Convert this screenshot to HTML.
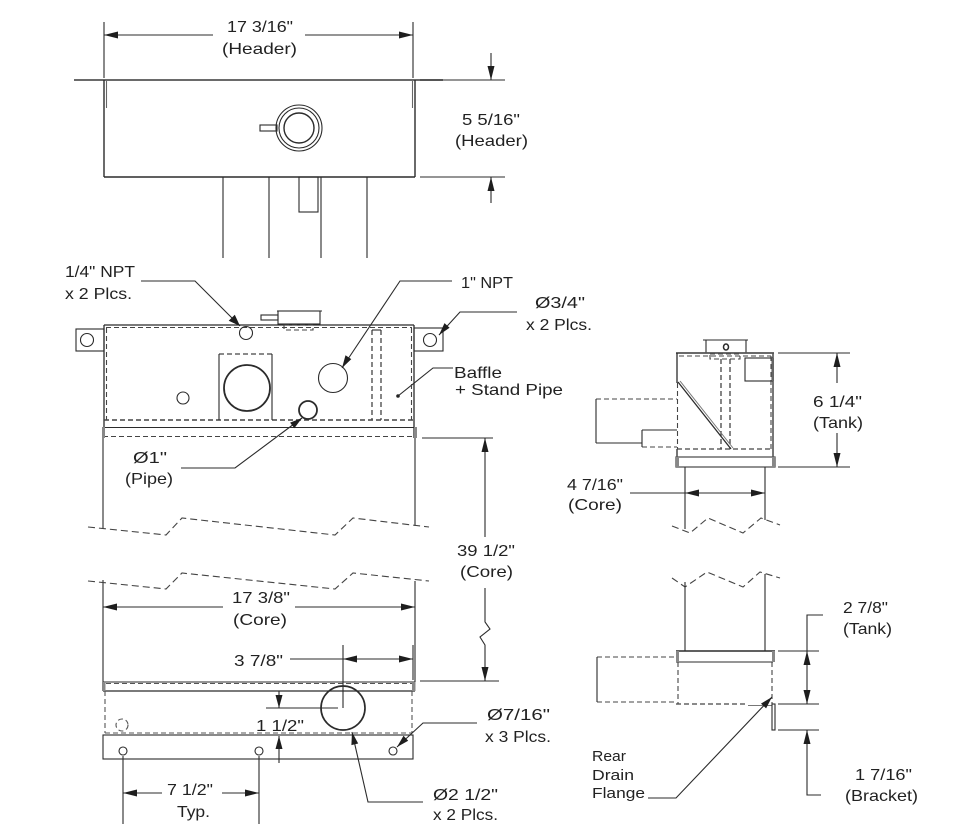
<!DOCTYPE html>
<html>
<head>
<meta charset="utf-8">
<style>
html,body{margin:0;padding:0;background:#fff;}
svg{display:block;}
text{font-family:"Liberation Sans","DejaVu Sans",sans-serif;font-size:16px;fill:#222;}
.s{font-size:15px;}
</style>
</head>
<body>
<svg width="960" height="828" viewBox="0 0 960 828" xmlns="http://www.w3.org/2000/svg">
<rect width="960" height="828" fill="#fff"/>

<!-- ================= TOP (HEADER) VIEW ================= -->
<g fill="none" stroke="#2b2b2b" stroke-width="1.1">
  <line x1="104" y1="22" x2="104" y2="78"/>
  <line x1="413" y1="22" x2="413" y2="78"/>
  <line x1="104" y1="35" x2="213" y2="35"/>
  <line x1="305" y1="35" x2="413" y2="35"/>
  <line x1="74" y1="80" x2="443" y2="80" stroke-width="1.8" stroke="#555"/>
  <line x1="104" y1="80" x2="104" y2="177" stroke-width="1.4"/>
  <line x1="415" y1="80" x2="415" y2="177" stroke-width="1.4"/>
  <line x1="106.5" y1="81" x2="106.5" y2="108" stroke="#666"/>
  <line x1="412.5" y1="81" x2="412.5" y2="108" stroke="#666"/>
  <line x1="104" y1="177" x2="415" y2="177" stroke-width="1.5"/>
  <circle cx="299" cy="128" r="23"/>
  <circle cx="299" cy="128" r="20"/>
  <circle cx="299" cy="128" r="15" stroke-width="1.4"/>
  <rect x="260" y="125" width="17" height="6"/>
  <path d="M223 258V177M269 177V258"/>
  <rect x="299" y="177" width="19" height="35"/>
  <path d="M321 258V177M367 177V258"/>
  <line x1="420" y1="80" x2="505" y2="80"/>
  <line x1="420" y1="177" x2="505" y2="177"/>
  <line x1="491" y1="53" x2="491" y2="80"/>
  <line x1="491" y1="177" x2="491" y2="203"/>
</g>

<!-- ================= FRONT VIEW (upper) ================= -->
<g fill="none" stroke="#2b2b2b" stroke-width="1.1">
  <polyline points="141,281 195,281 240,326"/>
  <polyline points="452,281 400,281 342,368"/>
  <polyline points="517,312 460,312 439,335"/>
  <polyline points="453,368 433,368 398,396"/>
  <polyline points="181,468 235,468 302,418"/>
  <rect x="76" y="329" width="28" height="22"/>
  <circle cx="87" cy="340" r="6.5"/>
  <rect x="414" y="328" width="29" height="23"/>
  <circle cx="430" cy="340" r="6.5"/>
  <line x1="104" y1="325" x2="414" y2="325" stroke-width="1.3"/>
  <line x1="104" y1="325" x2="104" y2="438" stroke-width="1.3"/>
  <line x1="414" y1="325" x2="414" y2="438" stroke-width="1.3"/>
  <g stroke-dasharray="5 3" stroke="#444">
    <line x1="106" y1="327.5" x2="412" y2="327.5"/>
    <line x1="106.5" y1="328" x2="106.5" y2="420"/>
    <line x1="411.5" y1="328" x2="411.5" y2="420"/>
    <line x1="104" y1="420" x2="414" y2="420" stroke-width="1.4"/>
    <line x1="219" y1="354" x2="272" y2="354" stroke-width="1.3"/>
    <line x1="372" y1="330" x2="372" y2="420" stroke-width="1.3"/>
    <line x1="381" y1="330" x2="381" y2="420" stroke-width="1.3"/>
    <rect x="284" y="325" width="29" height="5"/>
    <line x1="103" y1="436.5" x2="416" y2="436.5"/>
  </g>
  <line x1="372" y1="330" x2="381" y2="330"/>
  <path d="M219 420V354M272 354V420"/>
  <line x1="277" y1="311" x2="322" y2="311"/>
  <rect x="278" y="311" width="42" height="13"/>
  <rect x="261" y="315" width="17" height="5"/>
  <circle cx="246" cy="333" r="6.5"/>
  <circle cx="247" cy="388" r="23" stroke-width="1.8"/>
  <circle cx="333" cy="378" r="14.5"/>
  <circle cx="183" cy="398" r="6"/>
  <circle cx="308" cy="410" r="9" stroke-width="1.8"/>
  <line x1="103" y1="427.5" x2="416" y2="427.5"/>
  <line x1="103" y1="427" x2="103" y2="438"/>
  <line x1="416" y1="427" x2="416" y2="438"/>
  <line x1="422" y1="438" x2="493" y2="438"/>
  <line x1="103" y1="438" x2="103" y2="529"/>
  <line x1="415" y1="438" x2="415" y2="526"/>
  <line x1="103" y1="580" x2="103" y2="682"/>
  <line x1="415" y1="581" x2="415" y2="682"/>
  <g stroke-dasharray="7 4" stroke="#444">
    <polyline points="88,527 166,535 182,518 335,535 353,518 429,527"/>
    <polyline points="88,581 166,589 182,573 335,589 353,573 429,581"/>
  </g>
  <line x1="485" y1="438" x2="485" y2="537"/>
  <polyline points="485,588 485,622 490,629 480,637 485,645 485,681"/>
  <line x1="420" y1="681" x2="499" y2="681"/>
  <line x1="103" y1="607" x2="223" y2="607"/>
  <line x1="295" y1="607" x2="415" y2="607"/>
</g>
<circle cx="398" cy="396" r="1.8" fill="#222"/>
<rect x="102" y="427" width="3" height="11" fill="#888"/>
<rect x="414" y="427" width="3" height="11" fill="#888"/>

<!-- ================= FRONT VIEW (lower) ================= -->
<g fill="none" stroke="#2b2b2b" stroke-width="1.1">
  <line x1="103" y1="682" x2="415" y2="682"/>
  <line x1="103" y1="691" x2="415" y2="691" stroke-width="1.3"/>
  <g stroke-dasharray="5 3" stroke="#555">
    <line x1="106" y1="683.5" x2="412" y2="683.5"/>
    <line x1="105" y1="691" x2="105" y2="733"/>
    <line x1="412" y1="691" x2="412" y2="733"/>
    <line x1="105" y1="733" x2="412" y2="733"/>
    <circle cx="122" cy="725" r="6"/>
  </g>
  <rect x="103" y="735" width="310" height="24"/>
  <circle cx="123" cy="751" r="4"/>
  <circle cx="259" cy="751" r="4"/>
  <circle cx="393" cy="751" r="4"/>
  <circle cx="343" cy="708" r="22" stroke-width="1.7"/>
  <line x1="290" y1="659" x2="413" y2="659"/>
  <line x1="343" y1="645" x2="343" y2="708"/>
  <line x1="413" y1="645" x2="413" y2="680"/>
  <line x1="279" y1="691" x2="279" y2="708"/>
  <line x1="279" y1="736" x2="279" y2="763"/>
  <line x1="266" y1="708" x2="338" y2="708"/>
  <line x1="123" y1="756" x2="123" y2="824"/>
  <line x1="259" y1="756" x2="259" y2="824"/>
  <line x1="123" y1="793" x2="162" y2="793"/>
  <line x1="222" y1="793" x2="259" y2="793"/>
  <polyline points="477,723 423,723 397,747"/>
  <polyline points="423,802 368,802 352,732"/>
</g>
<rect x="102" y="682" width="3.5" height="9" fill="#888"/>
<rect x="412" y="682" width="3.5" height="9" fill="#888"/>

<!-- ================= RIGHT SIDE VIEW (upper) ================= -->
<g fill="none" stroke="#2b2b2b" stroke-width="1.1">
  <line x1="703" y1="340" x2="748" y2="340"/>
  <path d="M706 340V353M746 340V353"/>
  <ellipse cx="726" cy="347" rx="2.5" ry="3" stroke-width="1.5"/>
  <line x1="676" y1="353" x2="774" y2="353" stroke="#555" stroke-width="1.8"/>
  <line x1="677" y1="353" x2="677" y2="383" stroke-width="1.3"/>
  <line x1="773" y1="353" x2="773" y2="467" stroke-width="1.6" stroke="#555"/>
  <line x1="677" y1="449" x2="677" y2="467" stroke-width="1.3"/>
  <g stroke-dasharray="5 3" stroke="#444">
    <rect x="710" y="354" width="30" height="5"/>
    <line x1="679" y1="356" x2="771" y2="356"/>
    <line x1="677.5" y1="383" x2="677.5" y2="449"/>
    <line x1="771" y1="356" x2="771" y2="449"/>
    <line x1="677" y1="449" x2="773" y2="449" stroke-width="1.3"/>
    <line x1="721" y1="359" x2="721" y2="449" stroke-width="1.3"/>
    <line x1="730" y1="359" x2="730" y2="449" stroke-width="1.3"/>
    <line x1="596" y1="399" x2="677" y2="399"/>
    <line x1="642" y1="447" x2="677" y2="447"/>
  </g>
  <rect x="745" y="358" width="27" height="23"/>
  <line x1="678" y1="382" x2="731" y2="449" stroke-width="1.3"/>
  <line x1="680" y1="381" x2="733" y2="448" stroke="#777" stroke-width="1"/>
  <line x1="596" y1="399" x2="596" y2="443"/>
  <line x1="596" y1="443" x2="642" y2="443"/>
  <line x1="642" y1="430" x2="677" y2="430"/>
  <line x1="642" y1="430" x2="642" y2="447"/>
  <rect x="676" y="457" width="99" height="10" stroke="#555" stroke-width="1.3"/>
  <line x1="685" y1="467" x2="685" y2="529"/>
  <line x1="765" y1="467" x2="765" y2="520"/>
  <polyline points="672,526 690,533 708,518 743,533 761,518 780,525" stroke-dasharray="7 4" stroke="#444"/>
  <line x1="630" y1="493" x2="765" y2="493"/>
  <line x1="778" y1="353" x2="850" y2="353"/>
  <line x1="778" y1="467" x2="850" y2="467"/>
  <line x1="837" y1="353" x2="837" y2="383"/>
  <line x1="837" y1="433" x2="837" y2="467"/>
</g>
<rect x="676" y="457" width="3" height="10" fill="#888"/>
<rect x="772" y="457" width="3" height="10" fill="#888"/>
<rect x="771.5" y="358" width="2.5" height="23" fill="#666"/>

<!-- ================= RIGHT SIDE VIEW (lower) ================= -->
<g fill="none" stroke="#2b2b2b" stroke-width="1.1">
  <polyline points="672,578 685,587 707,572 743,587 760,572 780,578" stroke-dasharray="7 4" stroke="#444"/>
  <line x1="685" y1="582" x2="685" y2="651"/>
  <line x1="765" y1="574" x2="765" y2="651"/>
  <line x1="676" y1="651" x2="775" y2="651" stroke-width="1.4"/>
  <line x1="676" y1="662" x2="773" y2="662"/>
  <g stroke-dasharray="5 3" stroke="#444">
    <line x1="678" y1="662" x2="678" y2="704"/>
    <line x1="772" y1="662" x2="772" y2="704"/>
    <line x1="676" y1="704" x2="748" y2="704" stroke-width="1.3"/>
    <line x1="597" y1="657" x2="676" y2="657"/>
    <line x1="597" y1="702" x2="676" y2="702"/>
  </g>
  <line x1="597" y1="657" x2="597" y2="702"/>
  <line x1="748" y1="705.5" x2="772" y2="705.5" stroke="#777"/>
  <rect x="772" y="704" width="3" height="26"/>
  <line x1="778" y1="651" x2="819" y2="651"/>
  <line x1="778" y1="704" x2="819" y2="704"/>
  <line x1="778" y1="730" x2="819" y2="730"/>
  <polyline points="823,615 807,615 807,704"/>
  <polyline points="807,730 807,795 821,795"/>
  <polyline points="648,798 676,798 772,697"/>
</g>
<rect x="676" y="651" width="3" height="11" fill="#888"/>
<rect x="772" y="651" width="3" height="11" fill="#888"/>

<!-- ================= ARROWHEADS ================= -->
<g fill="#1e1e1e" stroke="none">
  <polygon points="104,35 118,31.5 118,38.5"/>
  <polygon points="413,35 399,31.5 399,38.5"/>
  <polygon points="491,80 487.5,66 494.5,66"/>
  <polygon points="491,177 487.5,191 494.5,191"/>
  <polygon points="240,326 228.7,320.8 234.8,314.7"/>
  <polygon points="342,368 345.5,355.3 351.3,359.1"/>
  <polygon points="439,335 444.5,323.1 449.6,327.8"/>
  <polygon points="302,418 294.3,428.2 290.1,422.6"/>
  <polygon points="397,747 403.5,735.7 408.2,740.8"/>
  <polygon points="352,732 358.2,743.5 351.4,745.1"/>
  <polygon points="772,697 766.1,708.4 761,703.6"/>
  <polygon points="485,438 481.5,452 488.5,452"/>
  <polygon points="485,681 481.5,667 488.5,667"/>
  <polygon points="103,607 117,603.5 117,610.5"/>
  <polygon points="415,607 401,603.5 401,610.5"/>
  <polygon points="343,659 357,655.5 357,662.5"/>
  <polygon points="413,659 399,655.5 399,662.5"/>
  <polygon points="279,708 275.5,695 282.5,695"/>
  <polygon points="279,736 275.5,749 282.5,749"/>
  <polygon points="123,793 137,789.5 137,796.5"/>
  <polygon points="259,793 245,789.5 245,796.5"/>
  <polygon points="685,493 699,489.5 699,496.5"/>
  <polygon points="765,493 751,489.5 751,496.5"/>
  <polygon points="837,353 833.5,367 840.5,367"/>
  <polygon points="837,467 833.5,453 840.5,453"/>
  <polygon points="807,651 803.5,665 810.5,665"/>
  <polygon points="807,704 803.5,690 810.5,690"/>
  <polygon points="807,730 803.5,744 810.5,744"/>
</g>

<!-- ================= TEXT ================= -->
<text x="227" y="32" textLength="66" lengthAdjust="spacingAndGlyphs">17 3/16"</text>
<text x="222" y="54" textLength="75" lengthAdjust="spacingAndGlyphs">(Header)</text>
<text x="462" y="125" textLength="58" lengthAdjust="spacingAndGlyphs">5 5/16"</text>
<text x="455" y="146" textLength="73" lengthAdjust="spacingAndGlyphs">(Header)</text>

<text x="65" y="277" textLength="70" lengthAdjust="spacingAndGlyphs">1/4" NPT</text>
<text x="65" y="299" textLength="67" lengthAdjust="spacingAndGlyphs">x 2 Plcs.</text>
<text x="461" y="288" textLength="52" lengthAdjust="spacingAndGlyphs">1" NPT</text>
<text x="535" y="308" textLength="50" lengthAdjust="spacingAndGlyphs">Ø3/4"</text>
<text x="526" y="330" textLength="66" lengthAdjust="spacingAndGlyphs">x 2 Plcs.</text>
<text x="454" y="378" textLength="48" lengthAdjust="spacingAndGlyphs">Baffle</text>
<text x="455" y="395" textLength="108" lengthAdjust="spacingAndGlyphs">+ Stand Pipe</text>
<text x="133" y="463" textLength="34" lengthAdjust="spacingAndGlyphs">Ø1"</text>
<text x="125" y="484" textLength="48" lengthAdjust="spacingAndGlyphs">(Pipe)</text>

<text x="457" y="556" textLength="58" lengthAdjust="spacingAndGlyphs">39 1/2"</text>
<text x="460" y="577" textLength="53" lengthAdjust="spacingAndGlyphs">(Core)</text>
<text x="232" y="603" textLength="58" lengthAdjust="spacingAndGlyphs">17 3/8"</text>
<text x="233" y="625" textLength="54" lengthAdjust="spacingAndGlyphs">(Core)</text>

<text x="234" y="666" textLength="49" lengthAdjust="spacingAndGlyphs">3 7/8"</text>
<text x="256" y="731" textLength="48" lengthAdjust="spacingAndGlyphs">1 1/2"</text>
<text x="487" y="720" textLength="63" lengthAdjust="spacingAndGlyphs">Ø7/16"</text>
<text x="485" y="742" textLength="66" lengthAdjust="spacingAndGlyphs">x 3 Plcs.</text>
<text x="167" y="795" textLength="46" lengthAdjust="spacingAndGlyphs">7 1/2"</text>
<text x="177" y="817" textLength="33" lengthAdjust="spacingAndGlyphs">Typ.</text>
<text x="433" y="800" textLength="65" lengthAdjust="spacingAndGlyphs">Ø2 1/2"</text>
<text x="433" y="820" textLength="65" lengthAdjust="spacingAndGlyphs">x 2 Plcs.</text>

<text x="567" y="490" textLength="56" lengthAdjust="spacingAndGlyphs">4 7/16"</text>
<text x="568" y="510" textLength="54" lengthAdjust="spacingAndGlyphs">(Core)</text>
<text x="813" y="407" textLength="49" lengthAdjust="spacingAndGlyphs">6 1/4"</text>
<text x="813" y="428" textLength="50" lengthAdjust="spacingAndGlyphs">(Tank)</text>

<text x="843" y="613" textLength="45" lengthAdjust="spacingAndGlyphs">2 7/8"</text>
<text x="843" y="634" textLength="49" lengthAdjust="spacingAndGlyphs">(Tank)</text>
<text x="855" y="780" textLength="57" lengthAdjust="spacingAndGlyphs">1 7/16"</text>
<text x="845" y="801" textLength="73" lengthAdjust="spacingAndGlyphs">(Bracket)</text>
<text class="s" x="592" y="761" textLength="34" lengthAdjust="spacingAndGlyphs">Rear</text>
<text class="s" x="592" y="780" textLength="42" lengthAdjust="spacingAndGlyphs">Drain</text>
<text class="s" x="592" y="798" textLength="53" lengthAdjust="spacingAndGlyphs">Flange</text>
</svg>
</body>
</html>
